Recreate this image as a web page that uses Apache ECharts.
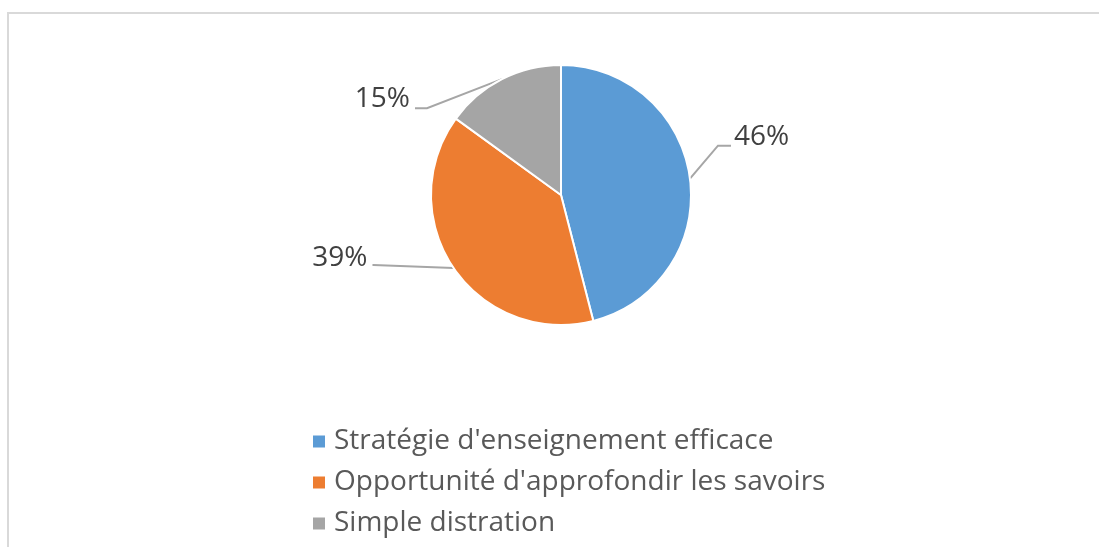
<!DOCTYPE html>
<html>
<head>
<meta charset="utf-8">
<script src="https://cdn.jsdelivr.net/npm/echarts@6/dist/echarts.min.js"></script>
<style>
html,body{margin:0;padding:0;background:#fff;}
#chart{width:1099px;height:547px;}
</style>
</head>
<body>
<div id="chart"></div>
<script>
const categories = ["Stratégie d'enseignement efficace", "Opportunité d'approfondir les savoirs", "Simple distration"];
const values = [46, 39, 15];
const colors = ['#5B9BD5', '#ED7D31', '#A5A5A5'];

// label leader-line geometry, offsets from the library's anchor on the pie edge
const labelGeom = [
  {bend: [28, -33], end: [41, -33], text: [44, -42], align: 'left'},
  {bend: [-80, -3], end: [-81, -3], text: [-86, -10], align: 'right'},
  {bend: [-75, 29], end: [-87, 29], text: [-92, 20], align: 'right'}
];

const chart = echarts.init(document.getElementById('chart'), null, {renderer: 'canvas'});
const font = "'Open Sans', 'Noto Sans', sans-serif";

chart.setOption({
  animation: false,
  backgroundColor: '#ffffff',
  color: colors,
  graphic: [{
    type: 'polyline',
    shape: {points: [[8, 560], [8, 13], [1099, 13]]},
    style: {fill: 'none', stroke: '#d9d9d9', lineWidth: 2},
    silent: true
  }],
  legend: {
    orient: 'vertical',
    left: 311,
    top: 427,
    padding: 0,
    itemWidth: 14,
    itemHeight: 14,
    itemGap: 12,
    icon: 'rect',
    data: categories,
    textStyle: {fontFamily: font, fontSize: 28, color: '#595959', lineHeight: 29, padding: [0, 0, 0, 3]}
  },
  series: [{
    type: 'pie',
    center: [561, 195],
    radius: 130,
    startAngle: 90,
    clockwise: true,
    avoidLabelOverlap: false,
    itemStyle: {borderColor: '#ffffff', borderWidth: 2},
    label: {
      show: true,
      position: 'outside',
      formatter: '{d}%',
      fontFamily: font,
      fontSize: 28,
      color: '#404040'
    },
    labelLine: {show: true, length: 20, length2: 12, lineStyle: {color: '#A6A6A6', width: 2}},
    labelLayout: function (params) {
      const g = labelGeom[params.dataIndex];
      const p = params.labelLinePoints;
      if (!p) return {};
      const p0 = p[0];
      return {
        x: p0[0] + g.text[0],
        y: p0[1] + g.text[1],
        align: g.align,
        verticalAlign: 'middle',
        labelLinePoints: [
          [p0[0], p0[1]],
          [p0[0] + g.bend[0], p0[1] + g.bend[1]],
          [p0[0] + g.end[0], p0[1] + g.end[1]]
        ]
      };
    },
    data: categories.map((c, i) => ({name: c, value: values[i]}))
  }]
});
</script>
</body>
</html>
